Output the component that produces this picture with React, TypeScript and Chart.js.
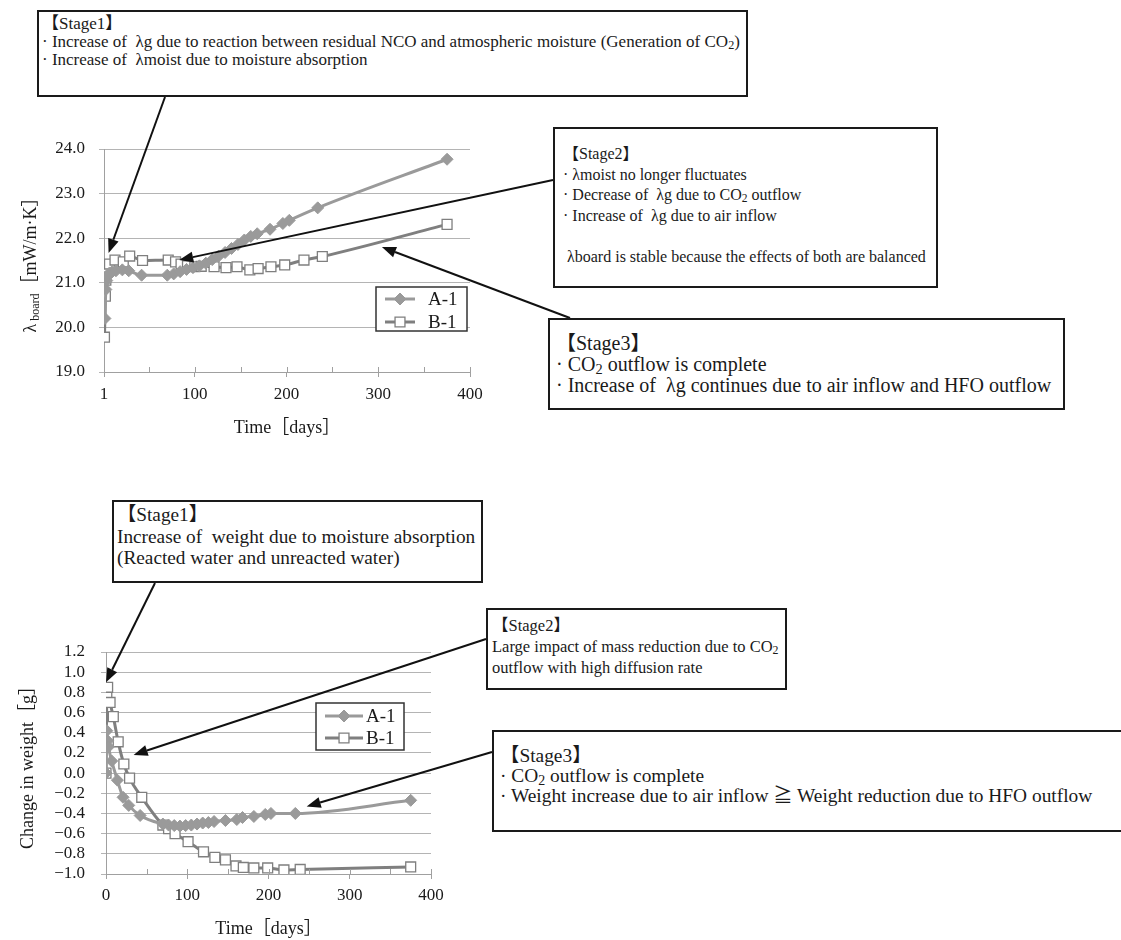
import { useEffect, useRef } from 'react';
import { Chart, registerables } from 'chart.js';

Chart.register(...registerables);

const W = 1121;
const H = 940;
const SERIF = "'Liberation Serif', 'Noto Sans CJK JP', serif";
const TEXT = '#1a1a1a';
const AXIS = '#a0a0a0';
const GRID = '#b4b4b4';
const COLOR_A = '#9a9a9a';
const COLOR_B = '#7f7f7f';

// ---------- data ----------
const seriesLabels = ['A-1', 'B-1'];

// Top chart: λ board [mW/m·K] vs time [days]
const lambdaDaysA1 = [2, 3, 4, 5, 7, 10, 14, 21, 28, 42, 70, 77, 84, 91, 98, 105, 112, 119, 126, 133, 140, 147, 154, 161, 168, 182, 196, 203, 234, 375];
const lambdaA1 = [20.2, 20.85, 21.05, 21.15, 21.22, 21.25, 21.27, 21.29, 21.27, 21.17, 21.17, 21.2, 21.25, 21.3, 21.34, 21.38, 21.44, 21.52, 21.6, 21.68, 21.77, 21.86, 21.96, 22.04, 22.1, 22.2, 22.33, 22.4, 22.68, 23.77];
const lambdaDaysB1 = [1.5, 2.5, 3, 4, 5, 7, 13, 22, 29, 43, 71, 79, 85, 92, 100, 107, 121, 134, 146, 160, 169, 183, 198, 219, 239, 375];
const lambdaB1 = [19.78, 20.7, 21.06, 21.25, 21.35, 21.42, 21.51, 21.47, 21.6, 21.5, 21.51, 21.47, 21.42, 21.38, 21.36, 21.37, 21.36, 21.34, 21.36, 21.29, 21.32, 21.36, 21.4, 21.51, 21.59, 22.31];
const lambdaXTickValues = [1, 100, 200, 300, 400];
const lambdaXTickLabels = ['1', '100', '200', '300', '400'];

// Bottom chart: change in weight [g] vs time [days]
const weightDaysA1 = [0, 1, 2, 3, 7, 14, 21, 28, 42, 70, 77, 84, 91, 98, 105, 112, 119, 126, 133, 147, 161, 168, 182, 196, 203, 233, 375];
const weightA1 = [0, 0.42, 0.32, 0.26, 0.12, -0.07, -0.24, -0.32, -0.42, -0.505, -0.515, -0.52, -0.525, -0.52, -0.515, -0.505, -0.495, -0.49, -0.48, -0.47, -0.46, -0.44, -0.43, -0.41, -0.4, -0.4, -0.27];
const weightDaysB1 = [0, 1, 2, 5, 9, 15, 22, 29, 44, 70, 77, 85, 101, 120, 134, 147, 160, 169, 182, 199, 219, 239, 375];
const weightB1 = [0, 0.79, 0.85, 0.7, 0.56, 0.31, 0.09, -0.05, -0.24, -0.515, -0.55, -0.6, -0.68, -0.78, -0.835, -0.86, -0.92, -0.935, -0.94, -0.94, -0.96, -0.955, -0.93];
const weightXTickValues = [0, 100, 200, 300, 400];
const weightXTickLabels = ['0', '100', '200', '300', '400'];

const minorXTicks = [50, 150, 250, 350];

// arrow targets, in data coordinates [day, value]
const lambdaArrowTargets = [[6, 21.67], [83, 21.51], [304, 21.8]];
const weightArrowTargets = [[0, 0.9], [34, 0.18], [247, -0.33]];

// ---------- drawing helpers ----------
function drawMarker(ctx: CanvasRenderingContext2D, style: string, x: number, y: number, r: number, fill: string, stroke: string, bw: number) {
  ctx.save();
  ctx.beginPath();
  if (style === 'rectRot') {
    ctx.moveTo(x - r, y);
    ctx.lineTo(x, y - r);
    ctx.lineTo(x + r, y);
    ctx.lineTo(x, y + r);
    ctx.closePath();
  } else {
    const s = r * Math.SQRT1_2;
    ctx.rect(x - s, y - s, 2 * s, 2 * s);
  }
  ctx.fillStyle = fill;
  ctx.fill();
  ctx.lineWidth = bw;
  ctx.strokeStyle = stroke;
  ctx.stroke();
  ctx.restore();
}

function makePlugins(spec: any) {
  const legend = spec.legend;
  const legendPlugin = {
    id: 'boxLegend',
    afterDatasetsDraw(chart: any) {
      const { ctx } = chart;
      ctx.save();
      ctx.fillStyle = '#fff';
      ctx.fillRect(legend.x, legend.y, legend.w, legend.h);
      ctx.strokeStyle = '#333';
      ctx.lineWidth = 1.5;
      ctx.strokeRect(legend.x, legend.y, legend.w, legend.h);
      chart.data.datasets.forEach((ds: any, i: number) => {
        const y = legend.y + legend.rows[i];
        ctx.strokeStyle = ds.borderColor;
        ctx.lineWidth = ds.borderWidth;
        ctx.beginPath();
        ctx.moveTo(legend.x + legend.line[0], y);
        ctx.lineTo(legend.x + legend.line[1], y);
        ctx.stroke();
        drawMarker(ctx, ds.pointStyle, legend.x + (legend.line[0] + legend.line[1]) / 2, y, ds.pointRadius, ds.pointBackgroundColor, ds.pointBorderColor, ds.pointBorderWidth);
        ctx.fillStyle = TEXT;
        ctx.font = `${legend.fontSize}px ${SERIF}`;
        ctx.textBaseline = 'middle';
        ctx.textAlign = 'left';
        ctx.fillText(ds.label, legend.x + legend.textX, y + 1);
      });
      ctx.restore();
    },
  };

  const arrowPlugin = {
    id: 'stageArrows',
    afterDatasetsDraw(chart: any) {
      const { ctx } = chart;
      const xs = chart.scales.x;
      const ys = chart.scales.y;
      ctx.save();
      ctx.strokeStyle = '#111';
      ctx.fillStyle = '#111';
      ctx.lineWidth = 2;
      spec.arrows.forEach((it: any) => {
        const tx = xs.getPixelForValue(it.to[0]);
        const ty = ys.getPixelForValue(it.to[1]);
        const sx = it.from[0];
        const sy = it.from[1];
        const ang = Math.atan2(ty - sy, tx - sx);
        const hl = 14;
        const hw = 5.5;
        const bx = tx - hl * Math.cos(ang);
        const by = ty - hl * Math.sin(ang);
        ctx.beginPath();
        ctx.moveTo(sx, sy);
        ctx.lineTo(bx, by);
        ctx.stroke();
        ctx.beginPath();
        ctx.moveTo(tx, ty);
        ctx.lineTo(bx + hw * Math.sin(ang), by - hw * Math.cos(ang));
        ctx.lineTo(bx - hw * Math.sin(ang), by + hw * Math.cos(ang));
        ctx.closePath();
        ctx.fill();
      });
      ctx.restore();
    },
  };

  const minorTickPlugin = {
    id: 'minorTicks',
    afterDraw(chart: any) {
      const { ctx } = chart;
      const xs = chart.scales.x;
      const yb = chart.chartArea.bottom;
      ctx.save();
      ctx.strokeStyle = AXIS;
      ctx.lineWidth = 1;
      const vals = minorXTicks.concat(spec.xTickValues);
      vals.forEach((v: number) => {
        const x = Math.round(xs.getPixelForValue(v)) + 0.5;
        ctx.beginPath();
        ctx.moveTo(x, yb);
        ctx.lineTo(x, yb - 5);
        ctx.stroke();
      });
      ctx.restore();
    },
  };

  const yTitlePlugin = {
    id: 'yTitle',
    afterDraw(chart: any) {
      const { ctx } = chart;
      const parts = spec.yTitle.parts;
      const cy = (chart.chartArea.top + chart.chartArea.bottom) / 2;
      ctx.save();
      ctx.translate(spec.yTitle.x, cy);
      ctx.rotate(-Math.PI / 2);
      let total = 0;
      const widths: number[] = [];
      for (const p of parts) {
        ctx.font = `${p.size}px ${SERIF}`;
        const w = ctx.measureText(p.text).width;
        widths.push(w);
        total += w;
      }
      let cx = -total / 2;
      ctx.fillStyle = TEXT;
      ctx.textAlign = 'left';
      ctx.textBaseline = 'alphabetic';
      parts.forEach((p: any, i: number) => {
        ctx.font = `${p.size}px ${SERIF}`;
        ctx.fillText(p.text, cx, 6 + p.dy);
        cx += widths[i];
      });
      ctx.restore();
    },
  };

  return [legendPlugin, arrowPlugin, minorTickPlugin, yTitlePlugin];
}

function fmt(v: number) {
  const n = Math.abs(v) < 1e-9 ? 0 : v;
  return n.toFixed(1).replace('-', '\u2212');
}

function buildConfig(spec: any): any {
  const { area, xAxisH } = spec;
  const mk = (label: string, days: number[], vals: number[], color: string, style: string, filled: boolean, radius: number) => ({
    label,
    data: days.map((d, i) => ({ x: d, y: vals[i] })),
    borderColor: color,
    borderWidth: 3,
    pointStyle: style,
    pointRadius: radius,
    pointBackgroundColor: filled ? color : '#ffffff',
    pointBorderColor: color,
    pointBorderWidth: filled ? 1 : 1.3,
    cubicInterpolationMode: 'monotone',
    fill: false,
  });
  return {
    type: 'line',
    data: {
      datasets: [
        mk(seriesLabels[0], spec.daysA, spec.valsA, COLOR_A, 'rectRot', true, 6),
        mk(seriesLabels[1], spec.daysB, spec.valsB, COLOR_B, 'rect', false, 7),
      ],
    },
    plugins: makePlugins(spec),
    options: {
      responsive: false,
      animation: false,
      devicePixelRatio: 1,
      layout: {
        padding: { left: 0, top: area.top, right: W - area.right, bottom: H - area.bottom - xAxisH },
      },
      plugins: {
        legend: { display: false },
        tooltip: { enabled: false },
      },
      scales: {
        x: {
          type: 'linear',
          min: spec.xMin,
          max: spec.xMax,
          afterBuildTicks: (s: any) => {
            s.ticks = spec.xTickValues.map((v: number) => ({ value: v }));
          },
          afterFit: (s: any) => {
            s.height = xAxisH;
          },
          grid: { drawOnChartArea: false, drawTicks: true, tickLength: 5, color: AXIS, lineWidth: 1 },
          border: { color: AXIS, width: 1 },
          ticks: {
            autoSkip: false,
            maxRotation: 0,
            padding: spec.xTickPad,
            color: TEXT,
            font: { family: SERIF, size: 17 },
            callback: (v: number) => {
              const i = spec.xTickValues.indexOf(v);
              return i >= 0 ? spec.xTickLabels[i] : '';
            },
          },
          title: {
            display: true,
            text: 'Time［days］',
            color: TEXT,
            font: { family: SERIF, size: 18 },
            padding: 0,
          },
        },
        y: {
          type: 'linear',
          min: spec.yMin,
          max: spec.yMax,
          afterFit: (s: any) => {
            s.width = area.left;
          },
          grid: { color: GRID, lineWidth: 1, tickLength: 5, drawTicks: true },
          border: { color: AXIS, width: 1 },
          ticks: {
            stepSize: spec.yStep,
            autoSkip: false,
            padding: spec.yTickPad,
            color: TEXT,
            font: { family: SERIF, size: 17 },
            callback: (v: number) => fmt(v),
          },
        },
      },
    },
  };
}

const lambdaSpec = {
  area: { left: 104, right: 470, top: 149, bottom: 372 },
  xAxisH: 67,
  xMin: 1,
  xMax: 400,
  xTickValues: lambdaXTickValues,
  xTickLabels: lambdaXTickLabels,
  xTickPad: 7,
  yMin: 19,
  yMax: 24,
  yStep: 1,
  yTickPad: 14,
  daysA: lambdaDaysA1,
  valsA: lambdaA1,
  daysB: lambdaDaysB1,
  valsB: lambdaB1,
  legend: { x: 376, y: 287, w: 91, h: 44, rows: [12, 35], line: [9, 39], textX: 52, fontSize: 19 },
  arrows: [
    { from: [165, 97], to: lambdaArrowTargets[0] },
    { from: [553, 180], to: lambdaArrowTargets[1] },
    { from: [570, 318], to: lambdaArrowTargets[2] },
  ],
  yTitle: {
    x: 30,
    parts: [
      { text: 'λ', size: 18, dy: 0 },
      { text: ' board', size: 12, dy: 3 },
      { text: '［mW/m·K］', size: 18, dy: 0 },
    ],
  },
};

const weightSpec = {
  area: { left: 106, right: 431, top: 652, bottom: 874 },
  xAxisH: 66,
  xMin: 0,
  xMax: 400,
  xTickValues: weightXTickValues,
  xTickLabels: weightXTickLabels,
  xTickPad: 6,
  yMin: -1.0,
  yMax: 1.2,
  yStep: 0.2,
  yTickPad: 16,
  daysA: weightDaysA1,
  valsA: weightA1,
  daysB: weightDaysB1,
  valsB: weightB1,
  legend: { x: 316, y: 703, w: 88, h: 47, rows: [13, 35], line: [9, 47], textX: 50, fontSize: 19 },
  arrows: [
    { from: [155, 583], to: weightArrowTargets[0] },
    { from: [486, 639], to: weightArrowTargets[1] },
    { from: [492, 752], to: weightArrowTargets[2] },
  ],
  yTitle: {
    x: 27,
    parts: [{ text: 'Change in weight［g］', size: 18, dy: 0 }],
  },
};

function ChartCanvas({ spec }: { spec: any }) {
  const ref = useRef<HTMLCanvasElement>(null);
  useEffect(() => {
    const chart = new Chart(ref.current as HTMLCanvasElement, buildConfig(spec));
    return () => chart.destroy();
  }, [spec]);
  return (
    <canvas
      ref={ref}
      width={W}
      height={H}
      style={{ position: 'absolute', left: 0, top: 0, width: W, height: H }}
    />
  );
}

const Sub = ({ children }: { children: any }) => (
  <span style={{ fontSize: '0.72em', position: 'relative', top: '0.18em' }}>{children}</span>
);

const noteBase: any = {
  position: 'absolute',
  boxSizing: 'border-box',
  border: '2px solid #1a1a1a',
  background: '#fff',
  fontFamily: SERIF,
  color: TEXT,
  whiteSpace: 'pre',
};

function Note({ style, lines }: { style: any; lines: any[] }) {
  return (
    <div style={{ ...noteBase, ...style }}>
      {lines.map((l, i) => (
        <div key={i} style={{ height: style.lineHeight, lineHeight: style.lineHeight }}>{l}</div>
      ))}
    </div>
  );
}

export default function App() {
  return (
    <div style={{ position: 'absolute', left: 0, top: 0, width: W, height: H, overflow: 'hidden', background: '#fff' }}>
      <ChartCanvas spec={lambdaSpec} />
      <ChartCanvas spec={weightSpec} />
      <Note
        style={{ left: 37, top: 10, height: 87, padding: '3px 6px 0 3px', fontSize: 17, lineHeight: '18px' }}
        lines={[
          '【Stage1】',
          <>· Increase of  λg due to reaction between residual NCO and atmospheric moisture (Generation of CO<Sub>2</Sub>)</>,
          '· Increase of  λmoist due to moisture absorption',
        ]}
      />
      <Note
        style={{ left: 553, top: 127, height: 161, padding: '15px 10px 0 8px', fontSize: 16, lineHeight: '20.5px' }}
        lines={[
          '【Stage2】',
          '· λmoist no longer fluctuates',
          <>· Decrease of  λg due to CO<Sub>2</Sub> outflow</>,
          '· Increase of  λg due to air inflow',
          ' ',
          ' λboard is stable because the effects of both are balanced',
        ]}
      />
      <Note
        style={{ left: 548, top: 318, height: 92, padding: '13px 12px 0 6px', fontSize: 20, lineHeight: '21px' }}
        lines={[
          '【Stage3】',
          <>· CO<Sub>2</Sub> outflow is complete</>,
          '· Increase of  λg continues due to air inflow and HFO outflow',
        ]}
      />
      <Note
        style={{ left: 112, top: 500, height: 83, padding: '2px 6px 0 3px', fontSize: 19.3, lineHeight: '21.5px' }}
        lines={[
          '【Stage1】',
          'Increase of  weight due to moisture absorption',
          '(Reacted water and unreacted water)',
        ]}
      />
      <Note
        style={{ left: 486, top: 608, height: 82, padding: '5px 6px 0 4px', fontSize: 16.5, lineHeight: '21px' }}
        lines={[
          '【Stage2】',
          <>Large impact of mass reduction due to CO<Sub>2</Sub></>,
          'outflow with high diffusion rate',
        ]}
      />
      <Note
        style={{ left: 492, top: 730, width: 700, height: 102, padding: '14px 0 0 6px', fontSize: 19.4, lineHeight: '20px' }}
        lines={[
          '【Stage3】',
          <>· CO<Sub>2</Sub> outflow is complete</>,
          '· Weight increase due to air inflow ≧ Weight reduction due to HFO outflow',
        ]}
      />
    </div>
  );
}
